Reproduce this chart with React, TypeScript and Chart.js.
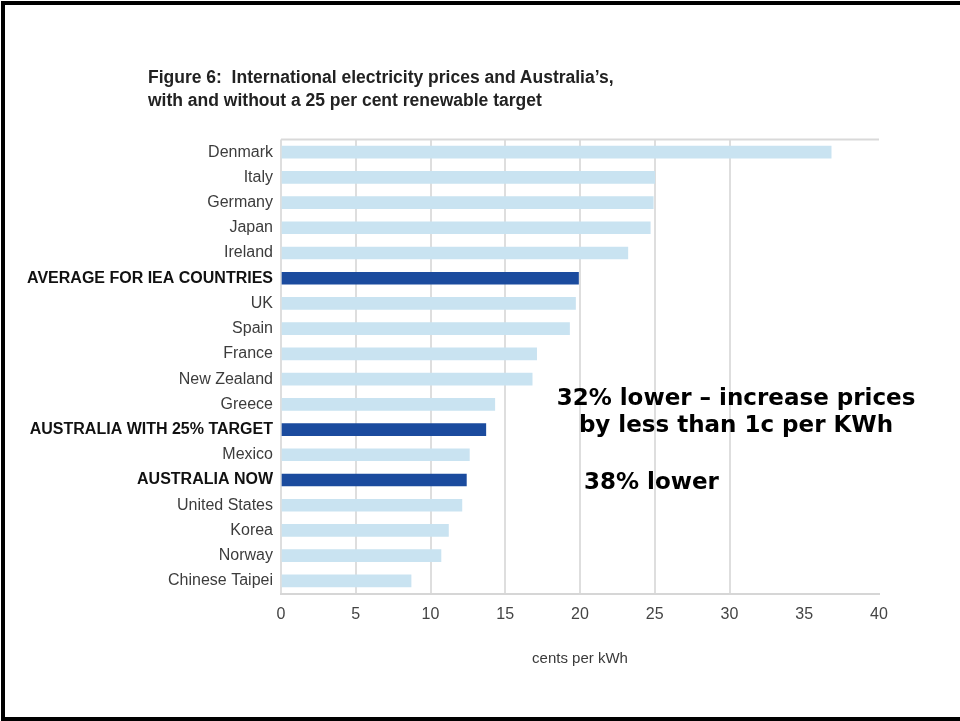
import React, { useEffect, useRef } from "react";
import { Chart, registerables } from "chart.js";

Chart.register(...registerables);

const categories = [
  "Denmark",
  "Italy",
  "Germany",
  "Japan",
  "Ireland",
  "AVERAGE FOR IEA COUNTRIES",
  "UK",
  "Spain",
  "France",
  "New Zealand",
  "Greece",
  "AUSTRALIA WITH 25% TARGET",
  "Mexico",
  "AUSTRALIA NOW",
  "United States",
  "Korea",
  "Norway",
  "Chinese Taipei",
];

const prices = [36.8, 25.0, 24.9, 24.7, 23.2, 19.9, 19.7, 19.3, 17.1, 16.8, 14.3, 13.7, 12.6, 12.4, 12.1, 11.2, 10.7, 8.7];

const highlighted = [
  "AVERAGE FOR IEA COUNTRIES",
  "AUSTRALIA WITH 25% TARGET",
  "AUSTRALIA NOW",
];

const xTickValues = [0, 5, 10, 15, 20, 25, 30, 35, 40];

const titleLines = [
  "Figure 6:  International electricity prices and Australia\u2019s,",
  "with and without a 25 per cent renewable target",
];

const xAxisTitle = "cents per kWh";

const noteUpper = ["32% lower \u2013 increase prices", "by less than 1c per KWh"];
const noteLower = "38% lower";

const LIGHT = "#c9e3f1";
const DARK = "#1b4b9e";
const FONT = "'Liberation Sans', Arial, Helvetica, sans-serif";
const NOTE_FONT = "'DejaVu Sans', Verdana, sans-serif";

export default function App() {
  const canvasRef = useRef<HTMLCanvasElement | null>(null);

  useEffect(() => {
    const canvas = canvasRef.current;
    if (!canvas) return;

    const topLine = {
      id: "topLine",
      afterDatasetsDraw(chart: any) {
        const { ctx, chartArea } = chart;
        ctx.save();
        ctx.strokeStyle = "#d9d9d9";
        ctx.lineWidth = 2;
        ctx.beginPath();
        ctx.moveTo(chartArea.left, chartArea.top);
        ctx.lineTo(chartArea.right, chartArea.top);
        ctx.stroke();
        ctx.restore();
      },
    };

    const chart = new Chart(canvas, {
      type: "bar",
      data: {
        labels: categories,
        datasets: [
          {
            data: prices,
            backgroundColor: categories.map((c) => (highlighted.includes(c) ? DARK : LIGHT)),
            borderWidth: 0,
            barThickness: 12,
          },
        ],
      },
      options: {
        indexAxis: "y",
        responsive: false,
        animation: false,
        layout: { padding: { left: 0, right: 81, top: 139.5, bottom: 0 } },
        plugins: {
          legend: { display: false },
          tooltip: { enabled: false },
          title: { display: false },
        },
        scales: {
          x: {
            type: "linear",
            min: 0,
            max: 40,
            afterBuildTicks: (scale: any) => {
              scale.ticks = xTickValues.map((v) => ({ value: v }));
            },
            afterFit: (scale: any) => {
              scale.height = 721 - 593.5;
            },
            grid: {
              color: (ctx: any) => (ctx.tick && ctx.tick.value <= 30 ? "#dedede" : "rgba(0,0,0,0)"),
              lineWidth: 2,
              drawTicks: false,
            },
            border: { display: true, color: "#d6d6d6", width: 2 },
            ticks: {
              padding: 11,
              color: "#444",
              font: { family: FONT, size: 16 },
            },
            title: {
              display: true,
              text: xAxisTitle,
              color: "#3a3a3a",
              font: { family: FONT, size: 15 },
              padding: { top: 0, bottom: 53 },
            },
          },
          y: {
            type: "category",
            afterFit: (scale: any) => {
              scale.width = 281;
            },
            grid: { display: false, drawTicks: false },
            border: { display: false },
            ticks: {
              padding: 8,
              autoSkip: false,
              color: (ctx: any) => (highlighted.includes(categories[ctx.index]) ? "#111" : "#3c3c3c"),
              font: (ctx: any) => ({
                family: FONT,
                size: 16,
                weight: highlighted.includes(categories[ctx.index]) ? "bold" : "normal",
              }),
            },
          },
        },
      },
      plugins: [topLine],
    } as any);

    return () => chart.destroy();
  }, []);

  return (
    <div
      style={{
        position: "absolute",
        left: 0,
        top: 0,
        width: 960,
        height: 721,
        background: "#fff",
        overflow: "hidden",
      }}
    >
      <canvas ref={canvasRef} width={960} height={721} style={{ position: "absolute", left: 0, top: 0 }} />
      <div
        style={{
          position: "absolute",
          left: 1,
          top: 1,
          width: 965,
          height: 720,
          borderLeft: "4px solid #000",
          borderTop: "4px solid #000",
          borderBottom: "4px solid #000",
          boxSizing: "border-box",
          pointerEvents: "none",
        }}
      />
      {titleLines.map((t, i) => (
        <div
          key={i}
          style={{
            position: "absolute",
            left: 148,
            top: 66 + i * 23,
            font: `bold 17.5px ${FONT}`,
            lineHeight: "22px",
            color: "#222",
            whiteSpace: "pre",
          }}
        >
          {t}
        </div>
      ))}
      {noteUpper.map((t, i) => (
        <div
          key={"n" + i}
          style={{
            position: "absolute",
            left: 536,
            width: 400,
            top: 383 + i * 27,
            textAlign: "center",
            font: `bold 23px ${NOTE_FONT}`,
            lineHeight: "28px",
            color: "#000",
            whiteSpace: "nowrap",
          }}
        >
          {t}
        </div>
      ))}
      <div
        style={{
          position: "absolute",
          left: 584,
          top: 467,
          font: `bold 23px ${NOTE_FONT}`,
          lineHeight: "28px",
          color: "#000",
          whiteSpace: "nowrap",
        }}
      >
        {noteLower}
      </div>
    </div>
  );
}
